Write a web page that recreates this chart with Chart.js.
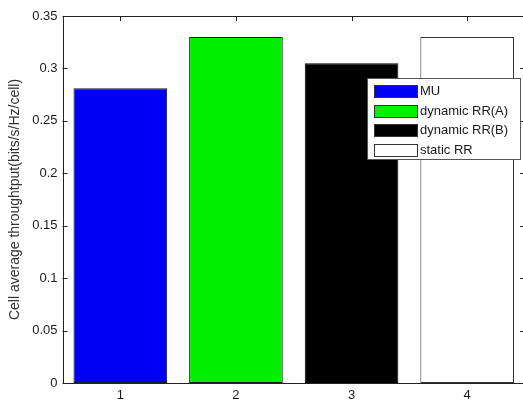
<!DOCTYPE html>
<html>
<head>
<meta charset="utf-8">
<script src="https://cdn.jsdelivr.net/npm/chart.js@4.4.1/dist/chart.umd.min.js"></script>
<style>
  html, body { margin: 0; padding: 0; overflow: hidden; background: #ffffff; }
  #wrap { width: 530px; height: 401px; }
</style>
</head>
<body>
<div id="wrap"><canvas id="c" width="530" height="401"></canvas></div>
<script>
// Cell average throughput per scheduling scheme
const categories = ['1', '2', '3', '4'];
const seriesNames = ['MU', 'dynamic RR(A)', 'dynamic RR(B)', 'static RR'];
const throughput = [0.281, 0.330, 0.305, 0.330];
const barColors = ['#0000f4', '#00f000', '#000000', '#ffffff'];
const yTickValues = [0, 0.05, 0.1, 0.15, 0.2, 0.25, 0.3, 0.35];
const yTitle = 'Cell average throughtput(bits/s/Hz/cell)';

const FONT = '"Liberation Sans", Arial, sans-serif';

// Axes box with inward ticks (drawn beneath the bars), box outline on top
const axesBox = {
  id: 'axesBox',
  beforeDatasetsDraw(chart) {
    const { ctx, chartArea: a, scales: { x, y } } = chart;
    const len = 5;
    ctx.save();
    ctx.strokeStyle = '#222';
    ctx.lineWidth = 1;
    ctx.beginPath();
    y.ticks.forEach(t => {
      const py = Math.round(y.getPixelForValue(t.value)) + 0.5;
      ctx.moveTo(a.left, py); ctx.lineTo(a.left + len, py);
      ctx.moveTo(a.right, py); ctx.lineTo(a.right - len, py);
    });
    x.ticks.forEach((t, i) => {
      const px = Math.round(x.getPixelForTick(i)) + 0.5;
      ctx.moveTo(px, a.top); ctx.lineTo(px, a.top + len);
      ctx.moveTo(px, a.bottom); ctx.lineTo(px, a.bottom - len);
    });
    ctx.stroke();
    ctx.restore();
  },
  afterDatasetsDraw(chart) {
    const { ctx, chartArea: a } = chart;
    ctx.save();
    ctx.strokeStyle = '#222';
    ctx.lineWidth = 1;
    const l = Math.round(a.left) + 0.5, r = Math.round(a.right) + 0.5;
    const t = Math.round(a.top) + 0.5, b = Math.round(a.bottom) + 0.5;
    ctx.strokeRect(l, t, r - l, b - t);
    ctx.restore();
  }
};

// Boxed legend inside the upper-right corner of the axes
const boxLegend = {
  id: 'boxLegend',
  afterDraw(chart) {
    const { ctx } = chart;
    const left = 367.5, top = 78.5, width = 153, height = 81;
    const rowH = 19.7, firstY = 91;
    ctx.save();
    ctx.fillStyle = '#ffffff';
    ctx.fillRect(left, top, width, height);
    ctx.strokeStyle = '#555';
    ctx.lineWidth = 1;
    ctx.strokeRect(left, top, width, height);
    ctx.font = '13px ' + FONT;
    ctx.textBaseline = 'middle';
    ctx.textAlign = 'left';
    seriesNames.forEach((name, i) => {
      const cy = firstY + i * rowH;
      ctx.fillStyle = barColors[i];
      ctx.fillRect(374.5, Math.round(cy - 6) + 0.5, 43, 12);
      ctx.strokeStyle = '#333';
      ctx.strokeRect(374.5, Math.round(cy - 6) + 0.5, 43, 12);
      ctx.fillStyle = '#1a1a1a';
      ctx.fillText(name, 420, cy + 0.5);
    });
    ctx.restore();
  }
};

new Chart(document.getElementById('c'), {
  type: 'bar',
  data: {
    labels: categories,
    datasets: [{
      data: throughput,
      backgroundColor: barColors,
      borderColor: ['#1a1a1a', '#1a1a1a', '#000000', '#333333'],
      borderWidth: 1,
      borderSkipped: false,
      categoryPercentage: 1.0,
      barPercentage: 0.81
    }]
  },
  options: {
    responsive: false,
    animation: false,
    devicePixelRatio: 1,
    layout: { padding: { left: 0, top: 16, right: 5, bottom: 0 } },
    plugins: {
      legend: { display: false },
      tooltip: { enabled: false }
    },
    scales: {
      x: {
        offset: true,
        grid: { display: false, drawTicks: false },
        border: { display: false },
        ticks: { color: '#1a1a1a', font: { family: FONT, size: 13 }, padding: 5, maxRotation: 0 },
        afterFit(scale) { scale.height = 18; }
      },
      y: {
        min: 0,
        max: 0.35,
        grid: { display: false, drawTicks: false },
        border: { display: false },
        afterBuildTicks(scale) { scale.ticks = yTickValues.map(v => ({ value: v })); },
        ticks: {
          color: '#1a1a1a',
          font: { family: FONT, size: 13 },
          padding: 5,
          callback: v => String(+Number(v).toFixed(2))
        },
        title: {
          display: true,
          text: yTitle,
          color: '#333',
          font: { family: FONT, size: 14 },
          padding: { top: 7, bottom: 0 }
        },
        afterFit(scale) { scale.width = 62.5; }
      }
    }
  },
  plugins: [axesBox, boxLegend]
});
</script>
</body>
</html>
